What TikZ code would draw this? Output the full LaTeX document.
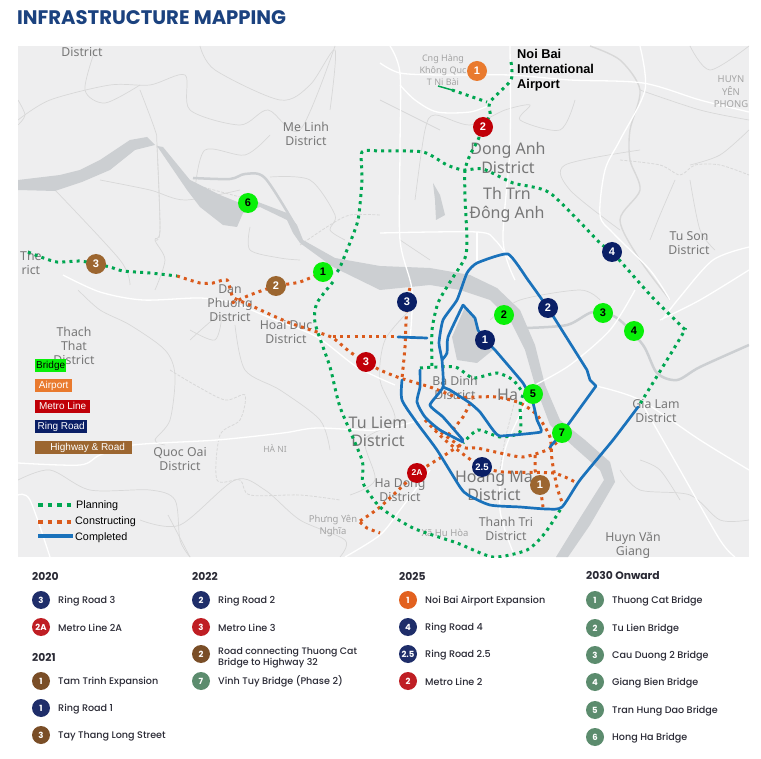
\documentclass[tikz,border=0pt]{standalone}
\usepackage{fontspec}
\setmainfont{Poppins}
\newfontfamily\medf{Poppins Medium}
\newfontfamily\mapf{Noto Sans}
\newfontfamily\arf{Liberation Sans}
\usetikzlibrary{calc}
\definecolor{mapbg}{HTML}{EEEEEF}
\definecolor{river}{HTML}{CCCFD2}
\definecolor{bord}{HTML}{D8D8D8}
\definecolor{lab}{HTML}{777777}
\definecolor{lablight}{HTML}{A4A4A4}
\definecolor{pgreen}{HTML}{00A651}
\definecolor{porange}{HTML}{DA5A1C}
\definecolor{pblue}{HTML}{1A72BB}
\definecolor{lime}{HTML}{08F008}
\definecolor{aorange}{HTML}{E97A2E}
\definecolor{mred}{HTML}{C00008}
\definecolor{rnavy}{HTML}{0A1F66}
\definecolor{hbrown}{HTML}{9C6630}
\definecolor{lnavy}{HTML}{1F2E6A}
\definecolor{lred}{HTML}{BF1E24}
\definecolor{lbrown}{HTML}{7A4E27}
\definecolor{lsage}{HTML}{5C8C6E}
\definecolor{lorange}{HTML}{E2611F}
\definecolor{ltext}{HTML}{2A2A35}
\definecolor{titleblue}{HTML}{1B427F}
\tikzset{
  x=1pt,y=-1pt,
  plan/.style={draw=pgreen,line width=3pt,dash pattern=on 3pt off 4.2pt},
  cons/.style={draw=porange,line width=3pt,dash pattern=on 3pt off 4.2pt},
  done/.style={draw=pblue,line width=2.7pt,line join=round,line cap=round},
  road/.style={draw=white,line width=1.3pt,line join=round},
  border/.style={draw=bord,line width=.7pt},
  dborder/.style={draw=bord,line width=.8pt,dash pattern=on 3pt off 1.5pt},
  riv/.style={draw=river,line width=2.5pt,line join=round},
  badge/.style={circle,minimum size=20pt,inner sep=0pt,font=\arf\bfseries\fontsize{11}{11}\selectfont},
  mapbadge/.style={badge,text=white},
  bridge/.style={badge,fill=lime,text=black},
  airport/.style={mapbadge,fill=aorange},
  metro/.style={mapbadge,fill=mred},
  ring/.style={mapbadge,fill=rnavy},
  high/.style={mapbadge,fill=hbrown},
  maplab/.style={text=lab,font=\mapf\bfseries\fontsize{12.3}{14}\selectfont,align=center,inner sep=0pt},
  biglab/.style={text=lab,font=\mapf\fontsize{16}{18.5}\selectfont,align=center,inner sep=0pt},
  lightlab/.style={text=lablight,font=\mapf\fontsize{9}{12}\selectfont,align=center,inner sep=0pt},
  keybox/.style={font=\arf\fontsize{10}{10}\selectfont,anchor=west,inner sep=0pt,minimum height=13pt,text height=7.5pt,text depth=2pt},
  linelab/.style={font=\arf\fontsize{10.8}{10}\selectfont,anchor=west,inner sep=0pt,text=black},
  yearhead/.style={font=\bfseries\fontsize{10.8}{12}\selectfont,text=ltext,anchor=west,inner sep=0pt},
  item/.style={font=\medf\fontsize{9.6}{11}\selectfont,text=ltext,anchor=west,inner sep=0pt,align=left,yshift=-.8pt},
  dot/.style={circle,minimum size=18pt,inner sep=0pt,text=white,font=\bfseries\fontsize{8.5}{8.5}\selectfont},
}
\begin{document}
\begin{tikzpicture}
\useasboundingbox (0,0) rectangle (761,759);
\fill[white] (0,0) rectangle (761,759);
\node[anchor=west,inner sep=0pt,text=titleblue,font=\bfseries\fontsize{19.6}{20}\selectfont] (title) at (17,18) {INFRASTRUCTURE MAPPING};
\begin{scope}
\clip (18,46) rectangle (749,557);
\fill[mapbg] (18,46) rectangle (749,557);
% admin borders
\draw[border] plot[smooth,tension=.5] coordinates {(18,120)(50,100)(110,85)(150,85)(185,75)(190,110)(240,125)(268,110)(300,130)(335,46)};
\draw[border] plot[smooth,tension=.5] coordinates {(95,50)(85,90)(105,103)(140,85)};
\draw[border] plot[smooth,tension=.5] coordinates {(200,46)(215,70)(280,100)(310,85)(335,50)(330,110)};
\draw[border] plot[smooth,tension=.5] coordinates {(18,100)(25,115)(18,125)};
\draw[border] plot[smooth,tension=.5] coordinates {(140,90)(155,130)(157,145)(160,230)(155,240)(165,260)(155,290)};
\draw[border] plot[smooth,tension=.5] coordinates {(55,190)(120,260)(130,285)};
\draw[border] plot[smooth,tension=.5] coordinates {(100,180)(150,190)(185,200)(240,190)};
\draw[border] plot[smooth,tension=.5] coordinates {(195,190)(205,150)(245,155)(270,135)};
\draw[border] plot[smooth,tension=.5] coordinates {(250,227)(250,250)(280,258)(300,260)};
\draw[border] plot[smooth,tension=.5] coordinates {(270,177)(310,180)(335,215)(330,230)(345,240)};
\draw[dborder] plot[smooth,tension=.5] coordinates {(157,145)(160,230)(155,240)};
\draw[dborder] plot[smooth,tension=.5] coordinates {(195,185)(240,197)};
\draw[dborder] plot[smooth,tension=.5] coordinates {(300,245)(330,225)(350,215)(380,215)};
\draw[border] plot[smooth,tension=.5] coordinates {(78,290)(100,310)(130,325)(165,350)(175,375)(170,420)(155,440)(165,445)};
\draw[dborder] plot[smooth,tension=.5] coordinates {(170,370)(195,385)(225,400)(245,395)(240,420)(220,435)(217,480)(240,480)(250,495)(300,495)(340,500)};
\draw[border] plot[smooth,tension=.5] coordinates {(190,330)(215,340)(220,315)(190,340)};
\draw[border] plot[smooth,tension=.5] coordinates {(235,325)(245,370)(280,390)(320,420)(330,450)};
\draw[border] plot[smooth,tension=.5] coordinates {(18,480)(50,470)(90,490)(150,490)(175,500)(180,540)(190,557)};
\draw[border] plot[smooth,tension=.5] coordinates {(140,520)(180,525)(235,480)(265,490)(300,520)(345,540)(340,557)};
\draw[border] plot[smooth,tension=.5] coordinates {(168,515)(190,557)};
\draw[border] plot[smooth,tension=.5] coordinates {(415,200)(425,130)(435,115)(470,125)(505,110)(530,105)(520,120)(560,130)(575,100)};
\draw[border] plot[smooth,tension=.5] coordinates {(380,100)(420,120)(440,130)};
\draw[border] plot[smooth,tension=.5] coordinates {(640,150)(565,165)(570,190)(620,230)};
\draw[dborder] plot[smooth,tension=.5] coordinates {(620,160)(660,165)(680,175)(695,165)(720,165)(749,175)};
\draw[border] plot[smooth,tension=.5] coordinates {(675,180)(660,215)(650,240)};
\draw[border] plot[smooth,tension=.5] coordinates {(690,180)(700,230)(715,250)};
\draw[border] plot[smooth,tension=.5] coordinates {(749,130)(720,155)(690,165)};
\draw[border] plot[smooth,tension=.5] coordinates {(640,90)(700,110)(749,120)};
\draw[border,line width=1.4pt] plot[smooth,tension=.5] coordinates {(590,46)(620,60)(640,90)(630,130)(630,160)(640,190)(620,220)(640,260)(670,300)};
\draw[border] plot[smooth,tension=.5] coordinates {(690,46)(710,70)(749,46)};
\draw[border] plot[smooth,tension=.5] coordinates {(430,260)(400,240)};
\draw[border] plot[smooth,tension=.5] coordinates {(620,470)(640,490)(690,495)(720,520)(749,520)};
\draw[border] plot[smooth,tension=.5] coordinates {(410,310)(385,340)(380,380)(395,420)(365,440)(375,480)(350,495)};
\draw[border] plot[smooth,tension=.5] coordinates {(640,460)(660,470)(680,500)};
\draw[dborder] plot[smooth,tension=.5] coordinates {(515,400)(505,440)(500,470)};
\draw[border] plot[smooth,tension=.5] coordinates {(490,320)(520,300)(580,290)(600,300)};
% river system
\fill[river] (18,180)--(60,175)--(80,170)--(100,160)--(130,140)--(147,137)--(155,145)--(135,150)--(110,170)--(82,182)--(55,191)--(18,190)--cycle;
\fill[river] (157,146)--(163,147)--(190,180)--(220,195)--(240,203)--(258,202)--(287,213)--(297,225)--(303,240)--(335,258)--(380,266)--(430,268)--(470,275)--(497,288)--(520,310)--(535,345)--(545,385)--(560,420)--(585,440)--(610,462)--(615,482)--(590,525)--(568,557)--(556,557)--(580,518)--(604,480)--(600,470)--(575,448)--(550,425)--(535,385)--(525,350)--(510,320)--(490,300)--(460,290)--(430,285)--(380,290)--(333,267)--(300,243)--(293,233)--(287,220)--(260,207)--(243,213)--(237,227)--(223,225)--(200,207)--(187,190)--cycle;
\fill[river] (465,307)--(452,337)--(457,360)--(477,363)--(493,350)--(480,340)--(475,318)--cycle;
\fill[river] (433,183)--(440,195)--(445,215)--(436,220)--(435,200)--cycle;
\draw[riv] plot[smooth,tension=.5] coordinates {(193,178)(230,179)(245,174)(265,178)(295,225)};
\draw[riv] plot[smooth,tension=.5] coordinates {(525,328)(567,325)(593,312)(617,318)(643,345)(657,373)(677,380)(700,367)(749,345)};
% roads
\draw[road] plot[smooth,tension=.5] coordinates {(63,275)(100,292)(143,300)(200,298)(233,303)(275,320)(317,337)(357,367)(395,385)};
\draw[road] plot[smooth,tension=.5] coordinates {(18,463)(80,465)(100,455)(133,445)(217,440)(283,433)(317,428)(377,430)(420,420)};
\draw[road] plot[smooth,tension=.5] coordinates {(380,63)(400,73)(440,75)(510,75)(570,80)(643,83)(700,100)(749,112)};
\draw[road] plot[smooth,tension=.5] coordinates {(390,46)(400,73)(400,150)(400,240)(412,290)(410,340)};
\draw[road] plot[smooth,tension=.5] coordinates {(400,85)(415,100)(437,112)(470,112)(490,105)};
\draw[road] plot[smooth,tension=.5] coordinates {(510,46)(510,147)(503,240)(515,280)};
\draw[road] plot[smooth,tension=.5] coordinates {(380,233)(477,232)(495,240)(510,260)};
\draw[road] plot[smooth,tension=.5] coordinates {(477,232)(477,262)};
\draw[road] plot[smooth,tension=.5] coordinates {(640,46)(645,90)(620,140)(605,170)(600,215)(613,233)(650,270)(670,300)};
\draw[road] plot[smooth,tension=.5] coordinates {(749,247)(713,260)(680,297)(662,320)};
\draw[road] plot[smooth,tension=.5] coordinates {(535,385)(570,365)(610,330)(635,290)};
\draw[road] plot[smooth,tension=.5] coordinates {(596,386)(640,400)(700,440)(749,470)};
\draw[road] plot[smooth,tension=.5] coordinates {(640,400)(680,470)(720,540)(735,557)};
\draw[road] plot[smooth,tension=.5] coordinates {(515,557)(500,510)(505,450)(530,395)};
\draw[road] plot[smooth,tension=.5] coordinates {(660,320)(700,300)(749,270)};
\draw[road] plot[smooth,tension=.5] coordinates {(18,495)(30,500)(50,557)};
\draw[road] plot[smooth,tension=.5] coordinates {(345,557)(380,535)(400,510)(430,470)};
% map labels
\node[maplab] (lDist) at (82,52) {District};
\node[maplab] (lMe) at (306,134) {Me Linh\\District};
\node[biglab] (lDong) at (508,158) {Dong Anh\\District};
\node[biglab] (lTh) at (507,205) {Th Trn\\Đông Anh};
\node[lightlab] (lCng) at (443,70.5) {Cng Hàng\\Không Quc\\T Ni Bài};
\node[text=lablight,font=\mapf\bfseries\fontsize{9.5}{12.5}\selectfont,align=center,inner sep=0pt] (lHuyn) at (731,92) {HUYN\\YÊN\\PHONG};
\node[maplab] (lTu) at (689,243) {Tu Son\\District};
\node[maplab,anchor=west] (lThe) at (20,262.5) {The\\rict};
\node[maplab] (lDan) at (230,303.5) {Dan\\Phuong\\District};
\node[maplab] (lHoai) at (286,332) {Hoai Duc\\District};
\node[maplab] (lThach) at (74,345.5) {Thach\\That\\District};
\node[maplab] (lQuoc) at (180,459) {Quoc Oai\\District};
\node[lightlab,font=\mapf\bfseries\fontsize{8.5}{10}\selectfont] (lHa) at (275,448) {HÀ NI};
\node[biglab] (lLiem) at (378,431.5) {Tu Liem\\District};
\node[lightlab,font=\mapf\bfseries\fontsize{9.5}{13}\selectfont] (lPhung) at (333,526) {Phưng Yên\\Nghĩa};
\node[maplab] (lBa) at (455,388) {Ba Dinh\\District};
\node[biglab,anchor=west] (lHanoi) at (497,395) {Ha};
\node[maplab] (lGia) at (656,411.5) {Gia Lam\\District};
\node[maplab] (lHaD) at (400,490) {Ha Dong\\District};
\node[biglab] (lHoang) at (494,486) {Hoang Ma\\District};
\node[maplab] (lThanh) at (506,529) {Thanh Tri\\District};
\node[lightlab,font=\mapf\fontsize{9.5}{12}\selectfont] (lXa) at (445,533) {Xã Hu Hòa};
\node[maplab] (lHuynV) at (633,545) {Huyn Văn\\Giang};
% constructing
\draw[cons] plot[smooth,tension=.4] coordinates {(177,276)(200,283)(213,283)(227,280)(233,297)(250,305)(267,313)(290,323)(317,332)(333,338)(350,352)(366,362)(380,370)(400,378)(430,387)(457,397)(477,397)(497,397)(520,403)(537,415)(550,437)(552,460)(557,487)(562,502)};
\draw[cons] plot[smooth,tension=.4] coordinates {(232,303)(250,295)(276,286)(300,282)(323,272)};
\draw[cons] (333,337) -- (397,337);
\draw[cons] plot[smooth,tension=.4] coordinates {(410,288)(407,302)(405,347)(402,378)};
\draw[cons] plot[smooth,tension=.4] coordinates {(435,428)(462,447)(477,448)(500,453)(523,457)(547,450)(557,442)};
\draw[cons] plot[smooth,tension=.4] coordinates {(425,420)(445,440)(467,457)(482,467)(503,472)(553,473)(575,482)};
\draw[cons] (535,455) -- (535,470) -- (540,485) -- (543,507);
\draw[cons] plot[smooth,tension=.4] coordinates {(360,521)(380,507)(417,473)(445,455)(463,443)};
\draw[cons] plot[smooth,tension=.4] coordinates {(448,435)(463,417)(472,399)};
\draw[cons] plot[smooth,tension=.4] coordinates {(360,522)(367,528)(380,533)};
% planning
\draw[plan] plot[smooth,tension=.4] coordinates {(28,252)(38,256)(57,262)(80,261)(96,264)(110,267)(123,271)(150,273)(177,276)};
\draw[plan] plot[smooth,tension=.4] coordinates {(511,62)(511,80)(490,102)(490,115)(483,127)(478,140)(470,155)(465,170)(465,197)(467,240)(465,258)(450,282)(438,303)(432,330)(432,367)};
\draw[plan] (452,90) -- (487,102);
\draw[pgreen,line width=1.5pt] (438,86) -- (452,90);
\draw[plan] plot[smooth,tension=.4] coordinates {(323,272)(337,272)(347,250)(358,220)(362,180)(362,152)(380,151)(423,152)(447,165)(463,170)(483,169)(513,183)(550,193)(600,243)(612,252)(653,298)(682,327)(682,335)(638,407)};
\draw[plan] plot[smooth,tension=.4] coordinates {(333,282)(317,303)(315,323)(330,367)(340,407)(362,460)(363,483)(380,507)(413,528)(457,543)(493,557)(527,550)(545,533)(562,507)};
\draw[plan] plot[smooth,tension=.4] coordinates {(420,368)(455,367)(473,378)(497,373)(513,380)(523,393)};
\draw[plan] plot[smooth,tension=.4] coordinates {(523,395)(520,405)(520,432)(500,437)(478,430)(463,443)};
% completed
\draw[done] plot[smooth,tension=.4] coordinates {(402,380)(402,400)(417,423)(437,450)(460,487)(468,495)(490,505)(520,507)(547,509)(562,507)(580,480)(613,440)(638,407)};
\draw[done] (398,337) -- (427,338);
\draw[done] plot[smooth,tension=.4] coordinates {(420,370)(420,387)(417,402)(425,417)(440,430)(463,442)};
\draw[done] (548,308) -- (587,370) -- (590,380) -- (596,386) -- (562,433) -- (550,447);
\draw[done] plot[smooth,tension=.3] coordinates {(548,308)(528,280)(508,254)(477,263)(467,273)(457,300)(443,320)(439,343)(442,360)(443,387)(430,405)(443,417)(463,440)};
\draw[done] plot[smooth,tension=.2] coordinates {(495,350)(523,383)(533,403)(537,420)(541,432)(500,436)(493,430)(480,412)(470,403)(450,390)};
\draw[done] (463,305) -- (475,318) -- (478,330) -- (485,340) -- (495,350);
\draw[done] plot[smooth,tension=.3] coordinates {(463,305)(448,337)(447,353)(442,360)};
\draw[done] (443,387) -- (450,390);
% map key
\node[keybox,fill=lime,text=black,minimum width=31pt,align=left,inner xsep=0pt] (kBridge) at (35,366) {Bridge};
\node[keybox,fill=aorange,text=white,minimum width=37pt] (kAirport) at (35,386) {Airport};
\node[keybox,fill=mred,text=white,minimum width=55pt] (kMetro) at (35,406.5) {Metro Line};
\node[keybox,fill=rnavy,text=white,minimum width=52pt] (kRing) at (35,427) {Ring Road};
\node[keybox,fill=hbrown,text=white,minimum width=97pt] (kHigh) at (35,448) {\hspace*{8pt}Highway \& Road};
\coordinate (k1a) at (38,505); \coordinate (k1b) at (72,505);
\coordinate (k2a) at (38,522); \coordinate (k2b) at (72,522);
\coordinate (k3a) at (38,536); \coordinate (k3b) at (73,536);
\draw[pgreen,line width=4pt,dash pattern=on 4.5pt off 5pt] (k1a) -- (k1b);
\draw[porange,line width=4pt,dash pattern=on 4.5pt off 5pt] (k2a) -- (k2b);
\draw[pblue,line width=4pt] (k3a) -- (k3b);
\node[linelab] (t1) at (76,506) {Planning};
\node[linelab] (t2) at (75,522) {Constructing};
\node[linelab] (t3) at (75,538) {Completed};
% badges
\node[bridge] (b6) at (248,203) {6};
\node[bridge] (b1) at (323,272) {1};
\node[bridge] (b2) at (504,315) {2};
\node[bridge] (b3) at (603,313) {3};
\node[bridge] (b4) at (634,331) {4};
\node[bridge] (b5) at (533,394) {5};
\node[bridge] (b7) at (562,433) {7};
\node[airport] (a1) at (477,71) {1};
\node[metro] (m2) at (483,127) {2};
\node[metro] (m3) at (366,362) {3};
\node[metro,font=\arf\bfseries\fontsize{8.5}{9}\selectfont] (m2a) at (417,473) {2A};
\node[ring] (r4) at (612,252) {4};
\node[ring] (r3) at (407,302) {3};
\node[ring] (r2) at (548,308) {2};
\node[ring] (r1) at (485,340) {1};
\node[ring,font=\arf\bfseries\fontsize{9.5}{10}\selectfont] (r25) at (482,467) {2.5};
\node[high] (h3) at (96,264) {3};
\node[high] (h2) at (276,286) {2};
\node[high] (h1) at (540,485) {1};
\node[anchor=north west,inner sep=0pt,text=black,font=\arf\bfseries\fontsize{12.8}{15}\selectfont,align=left] (lNoi) at (517,49) {Noi Bai\\International\\Airport};
\end{scope}
% lower legend
\node[yearhead] (y20) at (32,576) {2020};
\node[dot,fill=lnavy] (d1) at (41,600) {3}; \node[item] (i1) at (58,600) {Ring Road 3};
\node[dot,fill=lred] (d2) at (41,627) {2A}; \node[item] (i2) at (58,627) {Metro Line 2A};
\node[yearhead] (y21) at (32,657) {2021};
\node[dot,fill=lbrown] (d3) at (41,681) {1}; \node[item] (i3) at (58,681) {Tam Trinh Expansion};
\node[dot,fill=lnavy] (d4) at (41,708) {1}; \node[item] (i4) at (58,708) {Ring Road 1};
\node[dot,fill=lbrown] (d5) at (41,735) {3}; \node[item] (i5) at (58,735) {Tay Thang Long Street};
\node[yearhead] (y22) at (192,576) {2022};
\node[dot,fill=lnavy] (e1) at (201,600) {2}; \node[item] (j1) at (218,600) {Ring Road 2};
\node[dot,fill=lred] (e2) at (201,627) {3}; \node[item] (j2) at (218,627) {Metro Line 3};
\node[dot,fill=lbrown] (e3) at (201,654) {2}; \node[item,font=\medf\fontsize{9.4}{11}\selectfont] (j3) at (218,656.5) {Road connecting Thuong Cat\\Bridge to Highway 32};
\node[dot,fill=lsage] (e4) at (201,681) {7}; \node[item] (j4) at (218,681) {Vinh Tuy Bridge (Phase 2)};
\node[yearhead] (y25) at (399,576) {2025};
\node[dot,fill=lorange] (f1) at (408,600) {1}; \node[item] (k1) at (425,600) {Noi Bai Airport Expansion};
\node[dot,fill=lnavy] (f2) at (408,627) {4}; \node[item] (k2) at (425,627) {Ring Road 4};
\node[dot,fill=lnavy] (f3) at (408,654) {2.5}; \node[item] (k3) at (425,654) {Ring Road 2.5};
\node[dot,fill=lred] (f4) at (408,681) {2}; \node[item] (k4) at (425,681) {Metro Line 2};
\node[yearhead] (y30) at (586,576) {2030 Onward};
\node[dot,fill=lsage] (g1) at (595,600) {1}; \node[item] (l1) at (612,600) {Thuong Cat Bridge};
\node[dot,fill=lsage] (g2) at (595,628) {2}; \node[item] (l2) at (612,628) {Tu Lien Bridge};
\node[dot,fill=lsage] (g3) at (595,655) {3}; \node[item] (l3) at (612,655) {Cau Duong 2 Bridge};
\node[dot,fill=lsage] (g4) at (595,682) {4}; \node[item] (l4) at (612,682) {Giang Bien Bridge};
\node[dot,fill=lsage] (g5) at (595,710) {5}; \node[item] (l5) at (612,710) {Tran Hung Dao Bridge};
\node[dot,fill=lsage] (g6) at (595,737) {6}; \node[item] (l6) at (612,737) {Hong Ha Bridge};
\end{tikzpicture}
\end{document}
